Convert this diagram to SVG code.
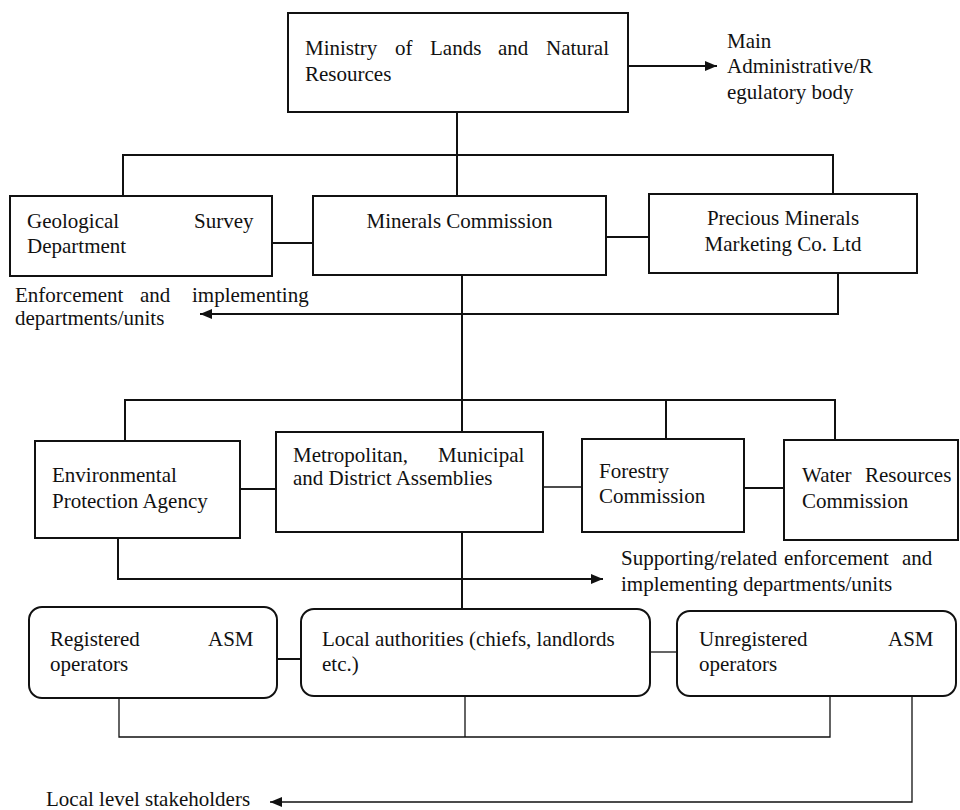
<svg xmlns="http://www.w3.org/2000/svg" width="960" height="810" viewBox="0 0 960 810">
<style>
.box{fill:#fff;stroke:#111;stroke-width:2}
.c{fill:none;stroke:#111;stroke-width:2}
.t{fill:none;stroke:#111;stroke-width:1.3}
</style>
<defs>
<marker id="ah" viewBox="0 0 12 10" refX="12" refY="5" markerWidth="12" markerHeight="10" markerUnits="userSpaceOnUse" orient="auto">
<path d="M0,0 L12,5 L0,10 Z" fill="#111"/>
</marker>
</defs>
<g id="connectors">
<path class="c" d="M457,112 V196"/>
<path class="c" d="M123,196 V155 H833 V194"/>
<path class="c" d="M628,66 H717" marker-end="url(#ah)"/>
<path class="c" d="M272,243 H313"/>
<path class="c" d="M606,237 H649"/>
<path class="c" d="M838,273 V314 H200" marker-end="url(#ah)"/>
<path class="c" d="M462,275 V432"/>
<path class="c" d="M125,441 V400 H835 V440"/>
<path class="c" d="M666,400 V439"/>
<path class="c" d="M240,489 H276"/>
<path class="t" d="M543,487 H582"/>
<path class="c" d="M744,488 H784"/>
<path class="c" d="M118,538 V579 H603" marker-end="url(#ah)"/>
<path class="c" d="M462,532 V609"/>
<path class="c" d="M277,659 H301"/>
<path class="t" d="M650,652 H677"/>
<path class="t" d="M119,698 V737 H830 V696"/>
<path class="t" d="M465,696 V737"/>
<path class="t" d="M912,696 V802 H270" marker-end="url(#ah)"/>
</g>
<g id="ministry">
<rect class="box" x="288" y="13" width="340" height="99"/>
<text font-family="Liberation Serif" font-size="21" fill="#111" y="55"><tspan x="305">Ministry</tspan><tspan x="395">of</tspan><tspan x="430">Lands</tspan><tspan x="498">and</tspan><tspan x="546">Natural</tspan></text>
<text font-family="Liberation Serif" font-size="21" fill="#111" x="305" y="81">Resources</text>
</g>
<g id="label-main">
<text font-family="Liberation Serif" font-size="21" fill="#111" x="727" y="48">Main</text>
<text font-family="Liberation Serif" font-size="21" fill="#111" x="727" y="73">Administrative/R</text>
<text font-family="Liberation Serif" font-size="21" fill="#111" x="727" y="99">egulatory body</text>
</g>
<g id="geological">
<rect class="box" x="10" y="196" width="262" height="80"/>
<text font-family="Liberation Serif" font-size="21" fill="#111" y="228"><tspan x="27">Geological</tspan><tspan x="194">Survey</tspan></text>
<text font-family="Liberation Serif" font-size="21" fill="#111" x="27" y="253">Department</text>
</g>
<g id="minerals">
<rect class="box" x="313" y="196" width="293" height="79"/>
<text font-family="Liberation Serif" font-size="21" fill="#111" text-anchor="middle" x="459.5" y="228">Minerals Commission</text>
</g>
<g id="precious">
<rect class="box" x="649" y="194" width="268" height="79"/>
<text font-family="Liberation Serif" font-size="21" fill="#111" text-anchor="middle" x="783" y="225">Precious Minerals</text>
<text font-family="Liberation Serif" font-size="21" fill="#111" text-anchor="middle" x="783" y="251">Marketing Co. Ltd</text>
</g>
<g id="label-enforcement">
<text font-family="Liberation Serif" font-size="21" fill="#111" y="302"><tspan x="15">Enforcement</tspan><tspan x="140">and</tspan><tspan x="192">implementing</tspan></text>
<text font-family="Liberation Serif" font-size="21" fill="#111" x="15" y="325">departments/units</text>
</g>
<g id="epa">
<rect class="box" x="35" y="441" width="205" height="97"/>
<text font-family="Liberation Serif" font-size="21" fill="#111" x="52" y="482">Environmental</text>
<text font-family="Liberation Serif" font-size="21" fill="#111" x="52" y="508">Protection Agency</text>
</g>
<g id="mmda">
<rect class="box" x="276" y="432" width="267" height="100"/>
<text font-family="Liberation Serif" font-size="21" fill="#111" y="462"><tspan x="293">Metropolitan,</tspan><tspan x="438">Municipal</tspan></text>
<text font-family="Liberation Serif" font-size="21" fill="#111" x="293" y="485">and District Assemblies</text>
</g>
<g id="forestry">
<rect class="box" x="582" y="439" width="162" height="93"/>
<text font-family="Liberation Serif" font-size="21" fill="#111" x="599" y="478">Forestry</text>
<text font-family="Liberation Serif" font-size="21" fill="#111" x="599" y="503">Commission</text>
</g>
<g id="water">
<rect class="box" x="784" y="440" width="174" height="100"/>
<text font-family="Liberation Serif" font-size="21" fill="#111" y="482"><tspan x="802">Water</tspan><tspan x="865">Resources</tspan></text>
<text font-family="Liberation Serif" font-size="21" fill="#111" x="802" y="508">Commission</text>
</g>
<g id="label-supporting">
<text font-family="Liberation Serif" font-size="21" fill="#111" y="565"><tspan x="621">Supporting/related</tspan><tspan x="784">enforcement</tspan><tspan x="902">and</tspan></text>
<text font-family="Liberation Serif" font-size="21" fill="#111" x="621" y="591">implementing departments/units</text>
</g>
<g id="registered">
<rect class="box" x="29" y="607" width="248" height="91" rx="13"/>
<text font-family="Liberation Serif" font-size="21" fill="#111" y="646"><tspan x="50">Registered</tspan><tspan x="208">ASM</tspan></text>
<text font-family="Liberation Serif" font-size="21" fill="#111" x="50" y="671">operators</text>
</g>
<g id="local-authorities">
<rect class="box" x="301" y="609" width="349" height="87" rx="13"/>
<text font-family="Liberation Serif" font-size="21" fill="#111" x="322" y="646">Local authorities (chiefs, landlords</text>
<text font-family="Liberation Serif" font-size="21" fill="#111" x="322" y="671">etc.)</text>
</g>
<g id="unregistered">
<rect class="box" x="677" y="611" width="279" height="85" rx="13"/>
<text font-family="Liberation Serif" font-size="21" fill="#111" y="646"><tspan x="699">Unregistered</tspan><tspan x="888">ASM</tspan></text>
<text font-family="Liberation Serif" font-size="21" fill="#111" x="699" y="671">operators</text>
</g>
<g id="label-local">
<text font-family="Liberation Serif" font-size="21" fill="#111" x="46" y="806">Local level stakeholders</text>
</g>
</svg>
